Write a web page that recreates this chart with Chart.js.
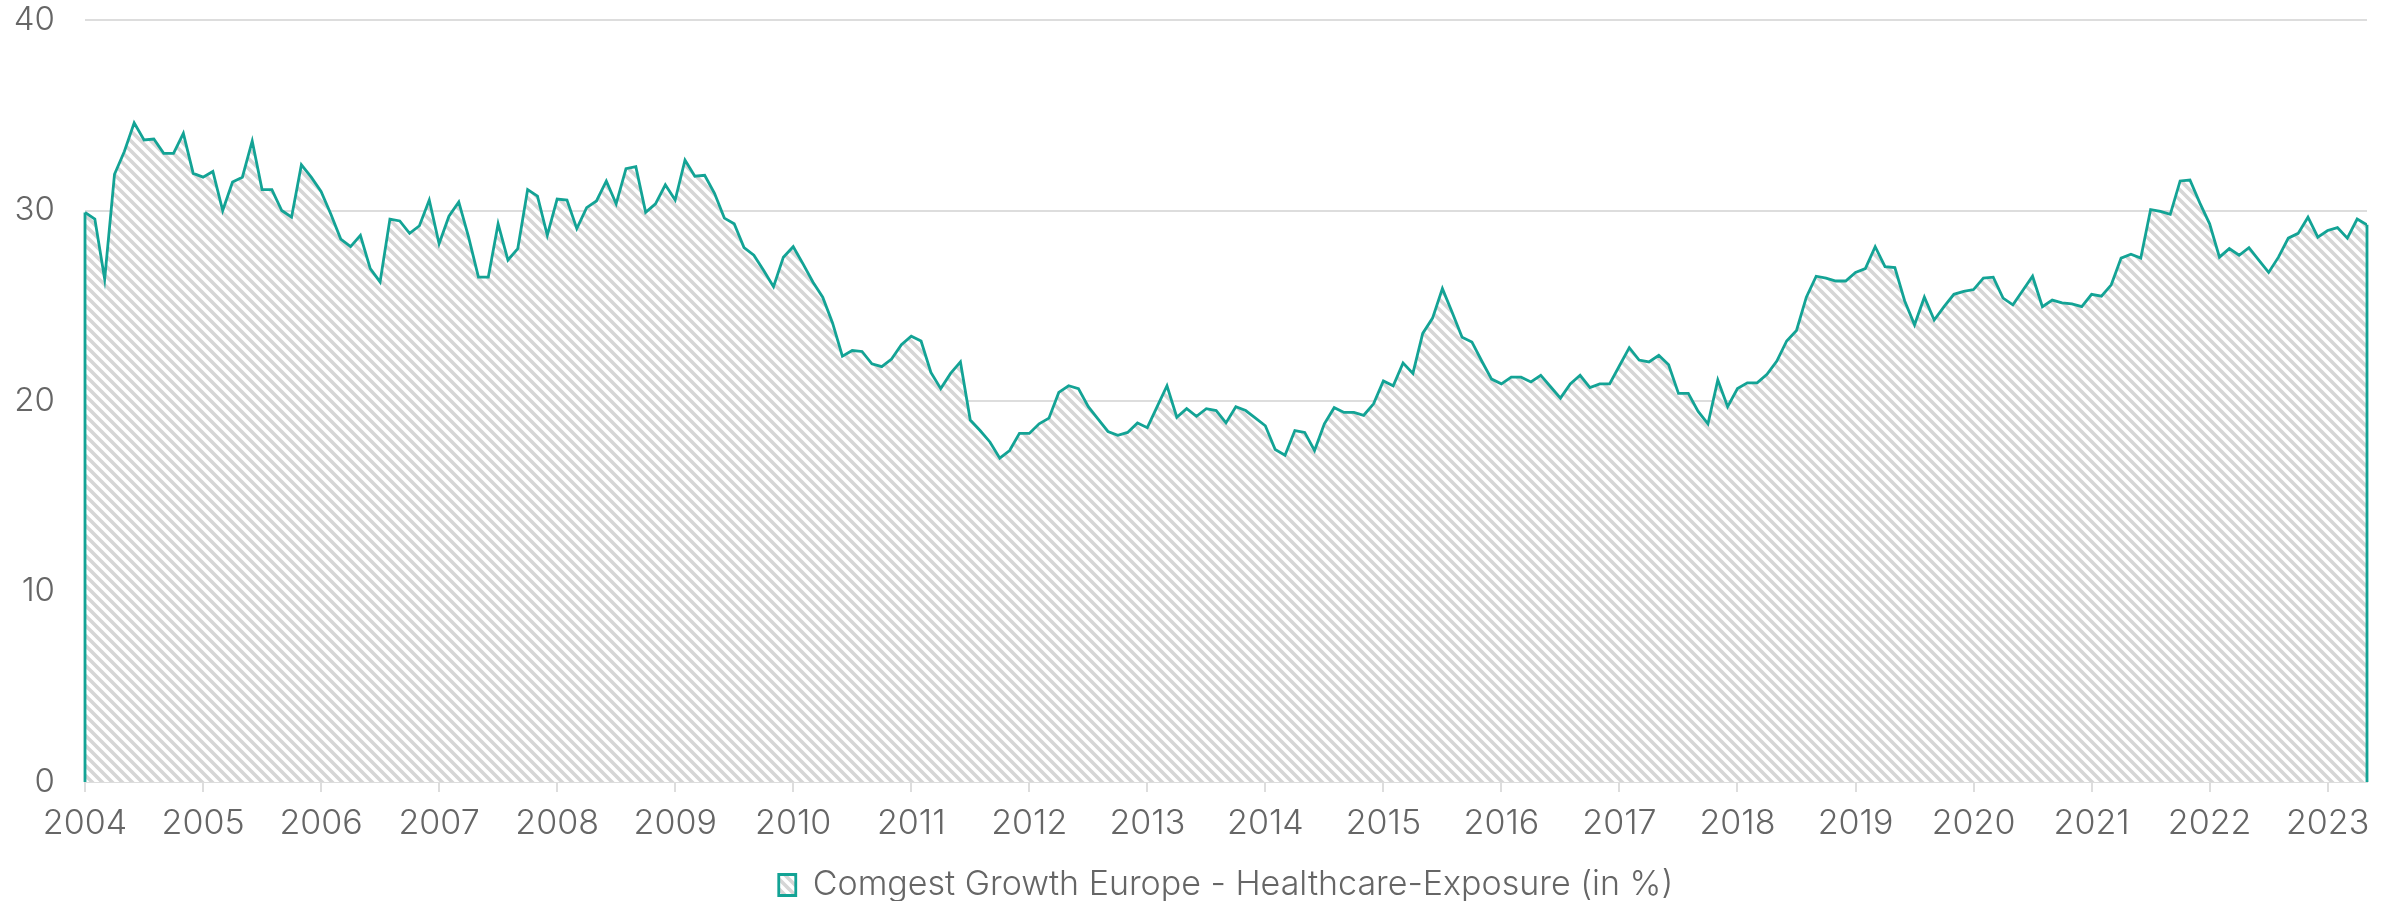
<!DOCTYPE html>
<html>
<head>
<meta charset="utf-8">
<script src="https://cdn.jsdelivr.net/npm/chart.js@4/dist/chart.umd.min.js"></script>
<style>
  html, body { margin: 0; padding: 0; background: #fff; }
  #wrap { width: 2399px; height: 901px; position: relative; }
</style>
</head>
<body>
<div id="wrap"><canvas id="exposureChart"></canvas></div>
<script>
// monthly values, Jan 2004 .. May 2023 (one row per year)
const exposure = [
  29.9, 29.55, 26.4, 31.9, 33.1, 34.6, 33.7, 33.75, 33.0, 33.0, 34.05, 31.95,
  31.75, 32.05, 30.0, 31.5, 31.75, 33.65, 31.1, 31.1, 30.0, 29.65, 32.4, 31.75,
  31.0, 29.8, 28.5, 28.1, 28.7, 26.95, 26.25, 29.55, 29.45, 28.8, 29.2, 30.55,
  28.25, 29.7, 30.45, 28.6, 26.5, 26.5, 29.3, 27.4, 28.0, 31.1, 30.75, 28.7,
  30.6, 30.55, 29.05, 30.15, 30.5, 31.55, 30.35, 32.2, 32.3, 29.9, 30.35, 31.35,
  30.55, 32.65, 31.8, 31.85, 30.9, 29.6, 29.3, 28.05, 27.65, 26.85, 26.0, 27.55,
  28.1, 27.2, 26.25, 25.45, 24.1, 22.35, 22.65, 22.6, 21.95, 21.8, 22.2, 22.95,
  23.4, 23.15, 21.5, 20.65, 21.45, 22.05, 19.0, 18.45, 17.85, 17.0, 17.4, 18.3,
  18.3, 18.8, 19.1, 20.45, 20.8, 20.65, 19.7, 19.05, 18.4, 18.2, 18.35, 18.85,
  18.6, 19.7, 20.8, 19.15, 19.6, 19.2, 19.6, 19.5, 18.85, 19.7, 19.5, 19.1,
  18.7, 17.45, 17.15, 18.45, 18.35, 17.4, 18.8, 19.65, 19.4, 19.4, 19.25, 19.85,
  21.05, 20.8, 22.0, 21.45, 23.55, 24.35, 25.9, 24.65, 23.35, 23.1, 22.1, 21.15,
  20.9, 21.25, 21.25, 21.0, 21.35, 20.75, 20.15, 20.9, 21.35, 20.7, 20.9, 20.9,
  21.85, 22.8, 22.15, 22.05, 22.4, 21.9, 20.4, 20.4, 19.45, 18.8, 21.1, 19.7,
  20.65, 20.95, 20.95, 21.4, 22.1, 23.15, 23.7, 25.45, 26.55, 26.45, 26.3, 26.3,
  26.75, 26.95, 28.1, 27.05, 27.0, 25.25, 24.0, 25.45, 24.25, 24.95, 25.6, 25.75,
  25.85, 26.45, 26.5, 25.4, 25.05, 25.8, 26.55, 24.95, 25.3, 25.15, 25.1, 24.95,
  25.6, 25.5, 26.1, 27.5, 27.7, 27.5, 30.05, 29.95, 29.8, 31.55, 31.6, 30.4,
  29.3, 27.55, 28.0, 27.65, 28.05, 27.4, 26.75, 27.55, 28.55, 28.8, 29.65, 28.6,
  28.95, 29.1, 28.55, 29.55, 29.25,
];

const yearLabels = [
  '2004', '2005', '2006', '2007', '2008', '2009', '2010', '2011', '2012', '2013',
  '2014', '2015', '2016', '2017', '2018', '2019', '2020', '2021', '2022', '2023',
];

const seriesName = 'Comgest Growth Europe - Healthcare-Exposure (in %)';

const teal = '#13a395';
const textGray = '#666666';
const gridGray = '#dddddd';

// grey "\\\" hatching on white, 10px repeat
function hatchPattern() {
  const size = 10;
  const c = document.createElement('canvas');
  c.width = size;
  c.height = size;
  const g = c.getContext('2d');
  g.fillStyle = '#ffffff';
  g.fillRect(0, 0, size, size);
  g.strokeStyle = '#d6d6d6';
  g.lineWidth = 3.6;
  g.beginPath();
  g.moveTo(-2, -2); g.lineTo(size + 2, size + 2);
  g.moveTo(-size / 2, size / 2); g.lineTo(size / 2, size * 1.5);
  g.moveTo(size / 2, -size / 2); g.lineTo(size * 1.5, size / 2);
  g.stroke();
  return g.createPattern(c, 'repeat');
}

// closes the area with the line colour at both ends, like the original
const edgeLines = {
  id: 'edgeLines',
  afterDatasetsDraw(chart) {
    const pts = chart.getDatasetMeta(0).data;
    if (!pts.length) return;
    const zero = chart.scales.y.getPixelForValue(0);
    const ctx = chart.ctx;
    ctx.save();
    ctx.strokeStyle = teal;
    ctx.lineWidth = 2.8;
    ctx.beginPath();
    [pts[0], pts[pts.length - 1]].forEach(p => {
      ctx.moveTo(p.x, p.y);
      ctx.lineTo(p.x, zero);
    });
    ctx.stroke();
    ctx.restore();
  },
};

Chart.defaults.font.family = 'Inter, Lato, sans-serif';
Chart.defaults.font.weight = 300;
Chart.defaults.color = textGray;

const ctx = document.getElementById('exposureChart').getContext('2d');
const chart = new Chart(ctx, {
  type: 'line',
  data: {
    datasets: [
      {
        label: seriesName,
        data: exposure.map((v, i) => ({ x: i, y: v })),
        borderColor: teal,
        borderWidth: 2.8,
        backgroundColor: hatchPattern(),
        fill: 'origin',
        pointRadius: 0,
        tension: 0,
      },
    ],
  },
  options: {
    responsive: true,
    maintainAspectRatio: false,
    animation: false,
    layout: { padding: { top: 20, right: 32, left: 0, bottom: -11 } },
    scales: {
      x: {
        type: 'linear',
        min: 0,
        max: exposure.length - 1,
        afterFit: scale => { scale.height = 86; },
        ticks: {
          stepSize: 12,
          includeBounds: false,
          maxRotation: 0,
          padding: 11,
          font: { size: 34 },
          callback: v => yearLabels[v / 12],
        },
        grid: { drawOnChartArea: false, color: gridGray, lineWidth: 2, tickLength: 10 },
        border: { color: gridGray, width: 2 },
      },
      y: {
        min: 0,
        max: 40,
        afterFit: scale => { scale.width = 85; },
        ticks: { stepSize: 10, padding: 0, font: { size: 33, lineHeight: 1 } },
        grid: { color: gridGray, lineWidth: 2, tickLength: 30, tickColor: 'transparent' },
        border: { display: false },
      },
    },
    plugins: {
      legend: {
        position: 'bottom',
        fullSize: false,
        labels: { boxWidth: 17, boxHeight: 21, padding: 0, font: { size: 34, lineHeight: 1 } },
      },
      tooltip: { enabled: false },
    },
  },
  plugins: [edgeLines],
});
</script>
</body>
</html>
